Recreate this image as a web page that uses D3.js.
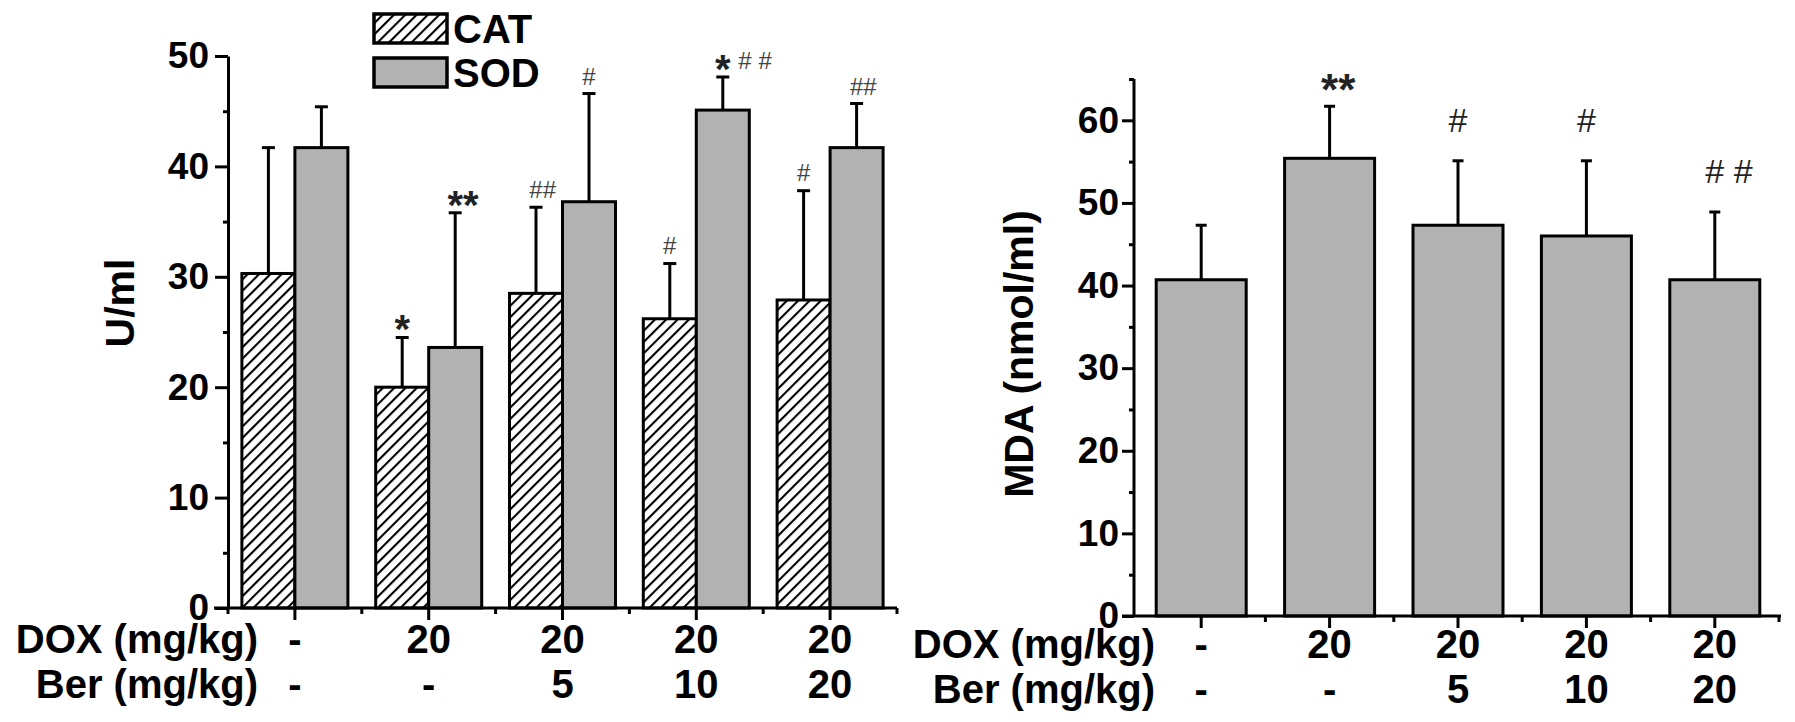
<!DOCTYPE html>
<html>
<head>
<meta charset="utf-8">
<script src="https://cdn.jsdelivr.net/npm/d3@7"></script>
<style>
  html, body { margin: 0; padding: 0; background: #fff; }
  svg { display: block; }
  text { font-family: "Liberation Sans", Arial, Helvetica, sans-serif; font-weight: bold; fill: #000; }
</style>
</head>
<body>
<script>
// ---------------- data ----------------
const groups = ["g1", "g2", "g3", "g4", "g5"];
const doxLabels = ["-", "20", "20", "20", "20"];
const berLabels = ["-", "-", "5", "10", "20"];
const rowTitles = ["DOX (mg/kg)", "Ber (mg/kg)"];

const seriesNames = ["CAT", "SOD"];
const catMean = [30.3, 20.0, 28.5, 26.2, 27.9];
const catErr  = [11.4, 4.5, 7.8, 5.0, 9.9];
const sodMean = [41.7, 23.6, 36.8, 45.1, 41.7];
const sodErr  = [3.7, 12.2, 9.8, 3.0, 4.0];
const catSig  = ["", "*", "##", "#", "#"];
const sodSig  = ["", "**", "#", "* # #", "##"];

const mdaMean = [40.7, 55.4, 47.3, 46.0, 40.7];
const mdaErr  = [6.6, 6.3, 7.8, 9.1, 8.2];
const mdaSig  = ["", "**", "#", "#", "# #"];

const leftMajorTicks = [0, 10, 20, 30, 40, 50];
const leftMinorTicks = [5, 15, 25, 35, 45];
const rightMajorTicks = [0, 10, 20, 30, 40, 50, 60];
const rightMinorTicks = [5, 15, 25, 35, 45, 55, 65];
const leftYTitle = "U/ml";
const rightYTitle = "MDA (nmol/ml)";

// ---------------- setup ----------------
const W = 1795, H = 722;
const svg = d3.select("body").append("svg").attr("width", W).attr("height", H);
svg.append("rect").attr("width", W).attr("height", H).attr("fill", "#fff");

const GRAY = "#b2b2b2";
const defs = svg.append("defs");
const pat = defs.append("pattern").attr("id", "hatch")
  .attr("patternUnits", "userSpaceOnUse").attr("width", 8).attr("height", 8)
  .attr("patternTransform", "rotate(45)");
pat.append("rect").attr("width", 8).attr("height", 8).attr("fill", "#fff");
pat.append("line").attr("x1", 1).attr("y1", 0).attr("x2", 1).attr("y2", 8)
  .attr("stroke", "#000").attr("stroke-width", 2.2);

function styleAxis(g, fs) {
  g.selectAll("path.domain").attr("stroke", "#000").attr("stroke-width", 3);
  g.selectAll(".tick line").attr("stroke", "#000").attr("stroke-width", 3);
  g.selectAll(".tick text").style("font-size", fs + "px")
    .style("font-family", "'Liberation Sans', Arial, sans-serif").style("font-weight", "bold").attr("fill", "#000");
}

function drawAnnot(g, str, cx, cy, opt) {
  const t = g.append("text").attr("x", cx).attr("y", cy).attr("text-anchor", "middle");
  for (const ch of str) {
    const ts = t.append("tspan").text(ch === " " ? "\u00a0" : ch);
    if (ch === "*") {
      ts.style("font-size", opt.astFs + "px").style("font-weight", "bold").attr("fill", opt.astColor)
        .attr("y", cy + 0.58 * opt.astFs);
    } else if (ch === "#") {
      ts.style("font-size", opt.hashFs + "px").style("font-weight", opt.hashWeight).attr("fill", opt.hashColor)
        .attr("y", cy + 0.36 * opt.hashFs);
    } else {
      ts.style("font-size", opt.hashFs + "px").attr("y", cy);
    }
  }
}

// ---------------- left chart ----------------
const yL = d3.scaleLinear().domain([0, 50]).range([608, 56]);
const xL = d3.scaleBand().domain(groups).range([228, 897]);
const bwL = 53;
const axL = 228;
const L = svg.append("g");

const leftData = groups.map((g, i) => ({ g, i, cat: catMean[i], catE: catErr[i], sod: sodMean[i], sodE: sodErr[i] }));

// error bars (behind)
function errBar(g, x, y0, y1, cap) {
  g.append("line").attr("x1", x).attr("x2", x).attr("y1", y0).attr("y2", y1).attr("stroke", "#000").attr("stroke-width", 3);
  g.append("line").attr("x1", x - cap / 2).attr("x2", x + cap / 2).attr("y1", y1).attr("y2", y1).attr("stroke", "#000").attr("stroke-width", 3);
}
leftData.forEach(d => {
  const c = xL(d.g) + xL.bandwidth() / 2;
  errBar(L, c - bwL / 2, yL(d.cat), yL(d.cat + d.catE), 13);
  errBar(L, c + bwL / 2, yL(d.sod), yL(d.sod + d.sodE), 13);
});
// bars
L.selectAll("rect.cat").data(leftData).join("rect").attr("class", "cat")
  .attr("x", d => xL(d.g) + xL.bandwidth() / 2 - bwL)
  .attr("y", d => yL(d.cat)).attr("width", bwL).attr("height", d => yL(0) - yL(d.cat))
  .attr("fill", "url(#hatch)").attr("stroke", "#000").attr("stroke-width", 3);
L.selectAll("rect.sod").data(leftData).join("rect").attr("class", "sod")
  .attr("x", d => xL(d.g) + xL.bandwidth() / 2)
  .attr("y", d => yL(d.sod)).attr("width", bwL).attr("height", d => yL(0) - yL(d.sod))
  .attr("fill", GRAY).attr("stroke", "#000").attr("stroke-width", 3);

// annotations
const annL = { astFs: 40, astColor: "#222", hashFs: 24, hashWeight: "normal", hashColor: "#444" };
leftData.forEach(d => {
  const c = xL(d.g) + xL.bandwidth() / 2;
  if (catSig[d.i]) drawAnnot(L, catSig[d.i], c - bwL / 2, yL(d.cat + d.catE) - 18, annL);
  if (sodSig[d.i]) drawAnnot(L, sodSig[d.i], c + bwL / 2, yL(d.sod + d.sodE) - 17, annL);
});

// axes
const gYL = L.append("g").attr("transform", `translate(${axL},0)`)
  .call(d3.axisLeft(yL).tickValues(leftMajorTicks).tickSize(13).tickSizeOuter(0).tickPadding(6));
styleAxis(gYL, 37);
const gYLm = L.append("g").attr("transform", `translate(${axL},0)`)
  .call(d3.axisLeft(yL).tickValues(leftMinorTicks).tickSize(5).tickFormat(""));
gYLm.select("path.domain").remove();
styleAxis(gYLm, 37);

const gXL = L.append("g").attr("transform", `translate(0,${yL(0)})`)
  .call(d3.axisBottom(xL).tickSize(12).tickSizeOuter(0).tickFormat(""));
styleAxis(gXL, 37);
gXL.select("path.domain").attr("d", `M${axL - 14},0H${xL.range()[1]}`);
const bL = groups.map(g => xL(g)).concat([xL.range()[1]]);
gXL.selectAll("line.minor").data(bL).join("line").attr("class", "minor")
  .attr("x1", d => d).attr("x2", d => d).attr("y1", 0).attr("y2", 6)
  .attr("stroke", "#000").attr("stroke-width", 3);

// y title
L.append("text").attr("transform", `translate(134,303) rotate(-90)`).attr("text-anchor", "middle")
  .style("font-size", "41px").text(leftYTitle);

// legend
const legend = L.append("g");
const legY = [14, 58];
seriesNames.forEach((s, i) => {
  legend.append("rect").attr("x", 374).attr("y", legY[i]).attr("width", 73).attr("height", 29)
    .attr("fill", i === 0 ? "url(#hatch)" : GRAY).attr("stroke", "#000").attr("stroke-width", 3.5);
  legend.append("text").attr("x", 453).attr("y", legY[i] + 29).style("font-size", "40px").text(s);
});

// row labels
function rowLabels(g, xs, labelX, baselines) {
  [doxLabels, berLabels].forEach((arr, r) => {
    g.append("text").attr("x", labelX).attr("y", baselines[r]).attr("text-anchor", "end")
      .style("font-size", "40px").text(rowTitles[r]);
    g.selectAll(null).data(arr).join("text")
      .attr("x", (d, i) => xs.bandwidth() / 2 + xs(groups[i])).attr("y", baselines[r])
      .attr("text-anchor", "middle").style("font-size", "40px").text(d => d);
  });
}
rowLabels(L, xL, 258, [653, 698]);

// ---------------- right chart ----------------
const yR = d3.scaleLinear().domain([0, 65]).range([616, 79]);
const xR = d3.scaleBand().domain(groups).range([1137, 1779]);
const bwR = 90;
const axR = 1134;
const R = svg.append("g");
const rightData = groups.map((g, i) => ({ g, i, v: mdaMean[i], e: mdaErr[i] }));

rightData.forEach(d => {
  const c = xR(d.g) + xR.bandwidth() / 2;
  errBar(R, c, yR(d.v), yR(d.v + d.e), 11);
});
R.selectAll("rect.mda").data(rightData).join("rect").attr("class", "mda")
  .attr("x", d => xR(d.g) + xR.bandwidth() / 2 - bwR / 2)
  .attr("y", d => yR(d.v)).attr("width", bwR).attr("height", d => yR(0) - yR(d.v))
  .attr("fill", GRAY).attr("stroke", "#000").attr("stroke-width", 3);

const annR = { astFs: 44, astColor: "#222", hashFs: 34, hashWeight: "normal", hashColor: "#222" };
rightData.forEach(d => {
  const c = xR(d.g) + xR.bandwidth() / 2;
  const s = mdaSig[d.i];
  if (s) drawAnnot(R, s, c, yR(d.v + d.e) - (s.includes("*") ? 27 : 41), annR);
});

const gYR = R.append("g").attr("transform", `translate(${axR},0)`)
  .call(d3.axisLeft(yR).tickValues(rightMajorTicks).tickSize(12).tickSizeOuter(0).tickPadding(3));
styleAxis(gYR, 37);
gYR.select("path.domain").attr("d", `M0,${yR(65)}V${yR(0)}`);
const gYRm = R.append("g").attr("transform", `translate(${axR},0)`)
  .call(d3.axisLeft(yR).tickValues(rightMinorTicks).tickSize(5).tickFormat(""));
gYRm.select("path.domain").remove();
styleAxis(gYRm, 37);

const gXR = R.append("g").attr("transform", `translate(0,${yR(0)})`)
  .call(d3.axisBottom(xR).tickSize(12).tickSizeOuter(0).tickFormat(""));
styleAxis(gXR, 37);
gXR.select("path.domain").attr("d", `M${axR - 12},0H${xR.range()[1] + 2}`);
const bR = groups.map(g => xR(g)).slice(1).concat([xR.range()[1]]);
gXR.selectAll("line.minor").data(bR).join("line").attr("class", "minor")
  .attr("x1", d => d).attr("x2", d => d).attr("y1", 0).attr("y2", 6)
  .attr("stroke", "#000").attr("stroke-width", 3);

R.append("text").attr("transform", `translate(1033,354) rotate(-90)`).attr("text-anchor", "middle")
  .style("font-size", "41px").text(rightYTitle);

rowLabels(R, xR, 1155, [658, 703]);
</script>
</body>
</html>
